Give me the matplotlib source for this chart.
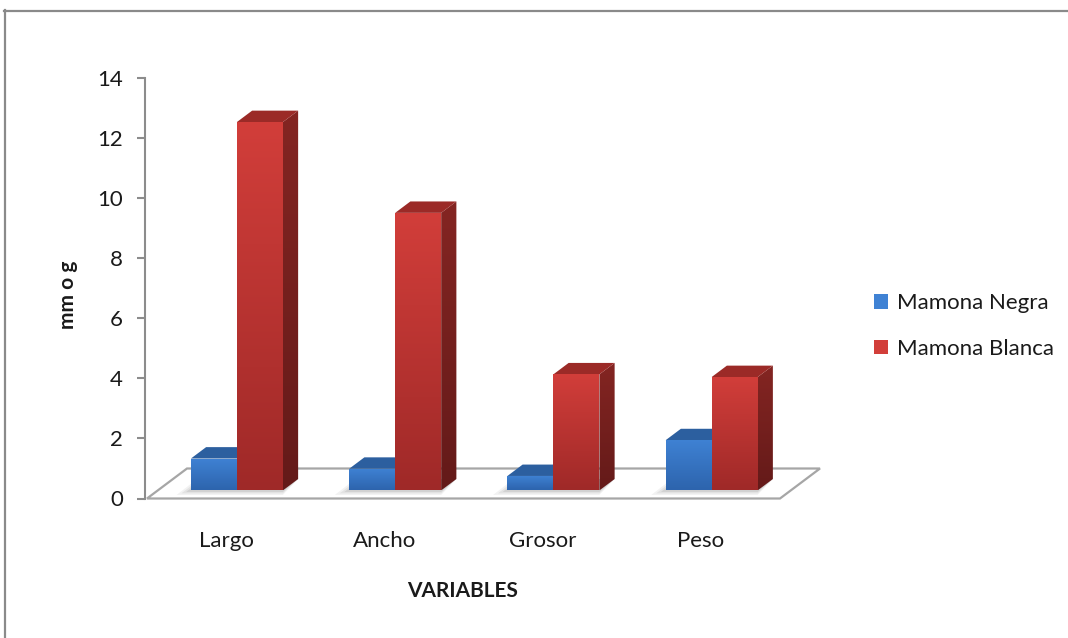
import numpy as np
import matplotlib
matplotlib.use("Agg")
import matplotlib.pyplot as plt
from matplotlib.patches import Polygon, Rectangle, Patch
from matplotlib.lines import Line2D
from matplotlib.colors import LinearSegmentedColormap

plt.rcParams['font.family'] = ['Lato', 'DejaVu Sans']

# ---- data ----
categories = ["Largo", "Ancho", "Grosor", "Peso"]
series_names = ["Mamona Negra", "Mamona Blanca"]
negra = [1.06, 0.72, 0.48, 1.67]
blanca = [12.25, 9.23, 3.86, 3.77]
y_ticks = [0, 2, 4, 6, 8, 10, 12, 14]

# ---- styles ----
front_cols = [("#3f82d4", "#2d64ad"), ("#d23e3a", "#9f2928")]
top_cols = ["#2c5f9f", "#9b2a27"]
side_cols = [("#2a568f", "#1f4274"), ("#842522", "#641a19")]
axis_gray = "#8c8c8c"
text_col = "#1a1a1a"

W, H = 1068, 638
fig = plt.figure(figsize=(W / 100, H / 100), dpi=100)

# pixel scale of the plotting area
PX_CAT = 158.25   # pixels per category
X0_PIX = 147.0    # pixel x of the floor's front-left corner
PX_VAL = 30.07    # pixels per value unit
Y0_PIX = 498.5    # pixel y of value 0 at the front edge
L, R, T, B = 100, 860, 50, 520
ax = fig.add_axes([L / W, 1 - B / H, (R - L) / W, (B - T) / H])
xlim = (-0.5 + (L - X0_PIX) / PX_CAT, -0.5 + (R - X0_PIX) / PX_CAT)
ylim = ((Y0_PIX - B) / PX_VAL, (Y0_PIX - T) / PX_VAL)

# oblique depth direction (full floor depth) in data units
DX = 40 / PX_CAT
DY = 30 / PX_VAL
F0 = 0.27          # depth position of the bar fronts
FD = 0.38          # bar depth as a fraction of the floor depth
BW = 46 / PX_CAT   # bar width

n = len(categories)

# floor
floor = Polygon([(-0.5, 0), (n - 0.5, 0), (n - 0.5 + DX, DY), (-0.5 + DX, DY)],
                closed=True, facecolor="white", edgecolor="#a6a6a6", lw=1.6, zorder=1)
ax.add_patch(floor)


def grad_fill(poly_patch, extent, c_top, c_bot, z):
    cmap = LinearSegmentedColormap.from_list("g", [c_bot, c_top])
    grad = np.linspace(0, 1, 256).reshape(-1, 1)
    im = ax.imshow(grad, cmap=cmap, extent=extent, origin="lower",
                   aspect="auto", zorder=z, interpolation="bilinear")
    ax.add_patch(poly_patch)
    im.set_clip_path(poly_patch)


bx = F0 * DX
by = F0 * DY
ddx, ddy = FD * DX, FD * DY

# soft shadows on the floor
for i in range(n):
    gx = i + bx
    for k, a in enumerate([0.05, 0.06, 0.08]):
        g = (3 - k) * 3 / PX_CAT
        gy = (3 - k) * 1.5 / PX_VAL
        sh = Polygon([(gx - BW - g * 1.6, by - gy), (gx + BW, by - gy),
                      (gx + BW + ddx, by + ddy), (gx - BW - g + ddx, by + ddy)],
                     closed=True, facecolor="black", alpha=a, lw=0, zorder=2)
        ax.add_patch(sh)

# bars
for i in range(n):
    gx = i + bx
    for s, vals in enumerate([negra, blanca]):
        v = vals[i]
        x0 = gx - BW if s == 0 else gx
        x1 = x0 + BW
        z = 3 + s
        # side face
        side = Polygon([(x1, by), (x1 + ddx, by + ddy), (x1 + ddx, by + v + ddy), (x1, by + v)],
                       closed=True, facecolor="none", lw=0, zorder=z)
        grad_fill(side, (x1, x1 + ddx, by, by + v + ddy), side_cols[s][0], side_cols[s][1], z)
        # top face
        top = Polygon([(x0, by + v), (x1, by + v), (x1 + ddx, by + v + ddy), (x0 + ddx, by + v + ddy)],
                      closed=True, facecolor=top_cols[s], edgecolor="none", lw=0, zorder=z + 0.1)
        ax.add_patch(top)
        # front face
        front = Rectangle((x0, by), BW, v, facecolor="none", lw=0, zorder=z + 0.2)
        grad_fill(front, (x0, x1, by, by + v), front_cols[s][0], front_cols[s][1], z + 0.2)

# axes styling
for side_name in ["top", "right", "bottom"]:
    ax.spines[side_name].set_visible(False)
ax.spines["left"].set_position(("data", -0.5 + (145 - X0_PIX) / PX_CAT))
ax.spines["left"].set_bounds(0, 14)
ax.spines["left"].set_color(axis_gray)
ax.spines["left"].set_linewidth(1.5)
ax.set_yticks(y_ticks)
ax.set_yticklabels([str(t) for t in y_ticks])
ax.tick_params(axis="y", length=6, width=1.5, color=axis_gray, labelsize=16,
               pad=10, labelcolor=text_col)
ax.set_xticks(range(n))
ax.set_xticklabels(categories)
ax.tick_params(axis="x", length=0, labelsize=16, pad=8, labelcolor=text_col)
ax.set_xlim(*xlim)
ax.set_ylim(*ylim)
ax.patch.set_visible(False)

# axis titles
fig.text(68 / W, 1 - 295 / H, "mm o g", rotation=90, ha="center", va="center",
         fontsize=15, fontweight="bold", color=text_col)
fig.text(463 / W, 1 - 591 / H, "VARIABLES", ha="center", va="center",
         fontsize=15, fontweight="bold", color=text_col)

# legend
handles = [Patch(facecolor=front_cols[s][0], edgecolor="none") for s in range(2)]
fig.legend(handles, series_names, loc="center left",
           bbox_to_anchor=(854 / W, 1 - 326 / H), frameon=False, fontsize=16,
           handlelength=0.65, handleheight=0.65, handletextpad=0.4,
           labelspacing=1.15, labelcolor=text_col)

# chart border
fig.add_artist(Line2D([4.5 / W, 4.5 / W], [0, 1 - 10 / H], color="#8a8a8a", lw=1.6))
fig.add_artist(Line2D([4 / W, 1], [1 - 10.5 / H, 1 - 10.5 / H], color="#8a8a8a", lw=1.6))

fig.savefig("out.png", dpi=100)
